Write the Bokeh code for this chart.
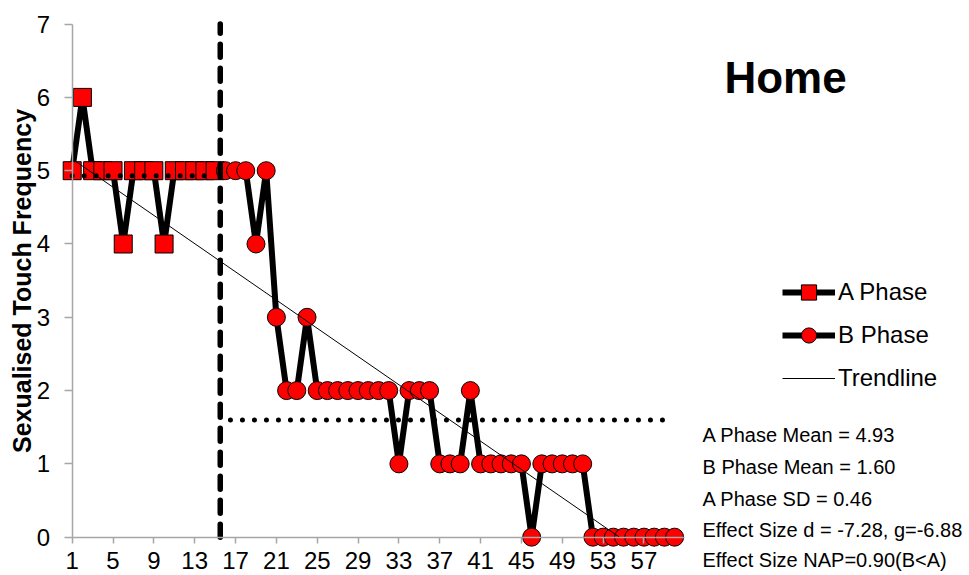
from bokeh.plotting import figure
from bokeh.models import Range1d, FixedTicker, Legend, LegendItem, Label
from bokeh.embed import file_html
from bokeh.resources import INLINE

# ---------------- data ----------------
a_sessions = list(range(1, 16))
a_values = [5, 6, 5, 5, 5, 4, 5, 5, 5, 4, 5, 5, 5, 5, 5]
b_sessions = list(range(16, 61))
b_values = [5, 5, 5, 4, 5,
            3, 2, 2, 3,
            2, 2, 2, 2, 2, 2, 2, 2,
            1,
            2, 2, 2,
            1, 1, 1,
            2,
            1, 1, 1, 1, 1,
            0,
            1, 1, 1, 1, 1,
            0, 0, 0, 0, 0, 0, 0, 0, 0]
a_mean = 4.93
b_mean = 1.60
a_mean_x = [1, 15]
b_mean_x = [16.5, 59]
phase_change_x = 15.5
trend_x = [1, 54.6]
trend_y = [5.16, 0]
x_ticks = [1, 5, 9, 13, 17, 21, 25, 29, 33, 37, 41, 45, 49, 53, 57]
y_ticks = [0, 1, 2, 3, 4, 5, 6, 7]
title_text = "Home"
y_title = "Sexualised Touch Frequency"
legend_labels = ["A Phase", "B Phase", "Trendline"]
stats_lines = ["A Phase Mean = 4.93",
               "B Phase Mean = 1.60",
               "A Phase SD = 0.46",
               "Effect Size d = -7.28, g=-6.88",
               "Effect Size NAP=0.90(B<A)"]

# ---------------- figure ----------------
W, H = 969, 575
p = figure(width=W, height=H, output_backend="svg", toolbar_location=None,
           x_range=Range1d(-6.022, 88.885), y_range=Range1d(-0.523, 7.322),
           min_border=0, min_border_left=0, min_border_right=0,
           min_border_top=0, min_border_bottom=0)
p.outline_line_color = None
p.grid.visible = False
p.background_fill_color = "white"
p.border_fill_color = "white"

FONT = "Liberation Sans"
AX = "#a6a6a6"

# axes placed at x=1 and y=0
p.xaxis.fixed_location = 0
p.yaxis.fixed_location = 1
p.xaxis.bounds = (1, 61)
p.yaxis.bounds = (0, 7)
p.xaxis.ticker = FixedTicker(ticks=x_ticks)
p.yaxis.ticker = FixedTicker(ticks=y_ticks)
for ax in (p.xaxis, p.yaxis):
    ax.axis_line_color = AX
    ax.axis_line_width = 1.5
    ax.major_tick_line_color = AX
    ax.major_tick_line_width = 1.5
    ax.major_tick_in = 0
    ax.minor_tick_line_color = None
    ax.major_label_text_font = FONT
    ax.major_label_text_font_size = "24px"
    ax.major_label_text_color = "black"
p.xaxis.major_tick_out = 6
p.xaxis.major_label_standoff = 9
p.yaxis.major_tick_out = 8
p.yaxis.major_label_standoff = 14
p.yaxis.axis_label = y_title
p.yaxis.axis_label_text_font = FONT
p.yaxis.axis_label_text_font_size = "25px"
p.yaxis.axis_label_text_font_style = "bold"
p.yaxis.axis_label_text_color = "black"
p.yaxis.axis_label_standoff = -2

# data series
la = p.line(a_sessions, a_values, line_color="black", line_width=6, line_join="round")
sa = p.scatter(a_sessions, a_values, marker="square", size=18,
               fill_color="#ff0000", line_color="black", line_width=1)
lb = p.line(b_sessions, b_values, line_color="black", line_width=6, line_join="round")
sb = p.scatter(b_sessions, b_values, marker="circle", size=18,
               fill_color="#ff0000", line_color="black", line_width=1)

# mean lines
p.line(a_mean_x, [a_mean, a_mean], line_color="black", line_width=5,
       line_dash="0 12", line_cap="round")
p.line(b_mean_x, [b_mean, b_mean], line_color="black", line_width=5,
       line_dash="0 12", line_cap="round")

# trendline
lt = p.line(trend_x, trend_y, line_color="black", line_width=1)

# phase change line
p.line([phase_change_x, phase_change_x], [y_ticks[0], y_ticks[-1]],
       line_color="black", line_width=5.5, line_dash="13 11", line_cap="round")

# legend
legend = Legend(items=[LegendItem(label=legend_labels[0], renderers=[la, sa]),
                       LegendItem(label=legend_labels[1], renderers=[lb, sb]),
                       LegendItem(label=legend_labels[2], renderers=[lt])],
                location=(782, 178), glyph_width=53, glyph_height=38,
                label_height=38, spacing=5, label_standoff=3, padding=0, margin=0,
                border_line_color=None, background_fill_alpha=0,
                label_text_font=FONT, label_text_font_size="24px",
                label_text_color="black")
p.add_layout(legend)

# title
p.add_layout(Label(x=785, y=H - 77, x_units="screen", y_units="screen",
                   text=title_text, text_font=FONT, text_font_size="44px",
                   text_font_style="bold", text_align="center",
                   text_baseline="middle", text_color="black"))

# stats text
row_y = [434, 466, 498, 529, 559]
for txt, yy in zip(stats_lines, row_y):
    p.add_layout(Label(x=702, y=H - yy, x_units="screen", y_units="screen",
                       text=txt, text_font=FONT, text_font_size="20px",
                       text_align="left", text_baseline="middle",
                       text_color="black"))

open("out.html", "w").write(file_html(p, INLINE))
